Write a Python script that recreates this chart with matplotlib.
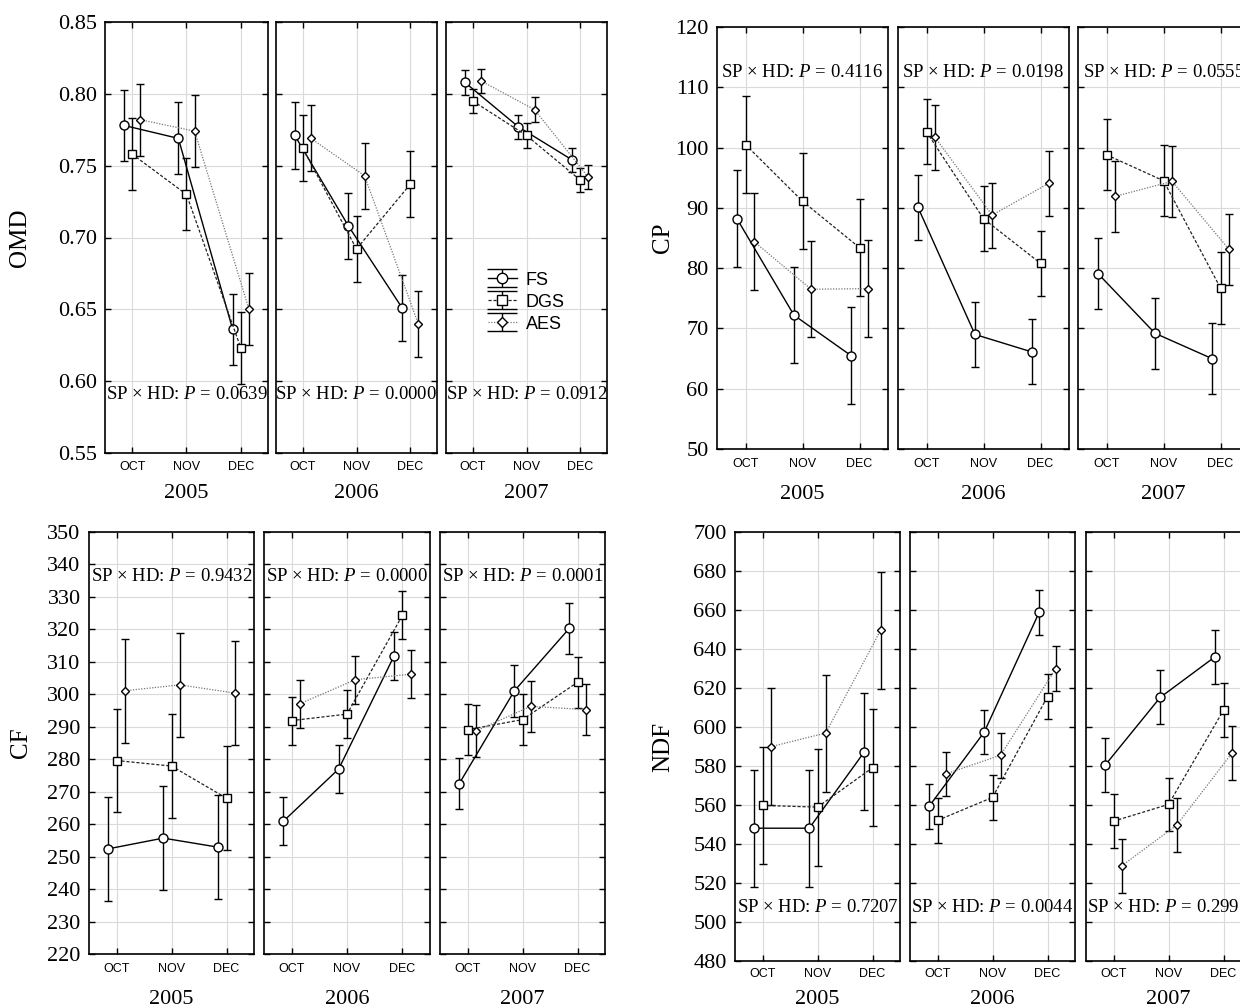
import matplotlib
matplotlib.use('Agg')
import matplotlib.pyplot as plt
from matplotlib.ticker import FormatStrFormatter

plt.rcParams['font.family'] = 'Liberation Serif'
plt.rcParams['mathtext.fontset'] = 'custom'
plt.rcParams['mathtext.rm'] = 'Liberation Serif'
plt.rcParams['mathtext.it'] = 'Liberation Serif:italic'

W, H = 1240, 1007

years = ['2005', '2006', '2007']
months = ['OCT', 'NOV', 'DEC']
series = ['FS', 'DGS', 'AES']

# means [year][month] and half error bars
omd_fs = [[0.778, 0.769, 0.636], [0.771, 0.708, 0.651], [0.808, 0.777, 0.754]]
omd_dgs = [[0.758, 0.730, 0.623], [0.762, 0.692, 0.737], [0.795, 0.771, 0.740]]
omd_aes = [[0.782, 0.774, 0.650], [0.769, 0.743, 0.640], [0.809, 0.789, 0.742]]
omd_err = [0.025, 0.023, 0.0085]
omd_p = ['0.0639', '0.0000', '0.0912']

cp_fs = [[88.2, 72.2, 65.5], [90.1, 69.0, 66.1], [79.1, 69.2, 65.0]]
cp_dgs = [[100.5, 91.1, 83.4], [102.6, 88.2, 80.8], [98.8, 94.5, 76.7]]
cp_aes = [[84.4, 76.5, 76.6], [101.7, 88.8, 94.1], [91.9, 94.4, 83.1]]
cp_err = [8.0, 5.4, 5.9]
cp_p = ['0.4116', '0.0198', '0.0555']

cf_fs = [[252.4, 255.7, 252.9], [260.9, 277.0, 311.8], [272.5, 301.0, 320.3]]
cf_dgs = [[279.6, 277.9, 268.0], [291.9, 293.9, 324.3], [289.1, 292.2, 303.7]]
cf_aes = [[301.1, 302.9, 300.4], [297.1, 304.5, 306.2], [288.7, 296.3, 295.3]]
cf_err = [16.0, 7.4, 7.9]
cf_p = ['0.9432', '0.0000', '0.0001']

ndf_fs = [[548.1, 548.1, 587.2], [559.4, 597.4, 658.9], [580.5, 615.2, 636.1]]
ndf_dgs = [[559.8, 558.9, 579.1], [552.1, 563.9, 615.6], [551.7, 560.3, 608.6]]
ndf_aes = [[589.9, 596.9, 649.7], [575.9, 585.6, 630.0], [528.8, 549.7, 586.5]]
ndf_err = [30.0, 11.5, 13.8]
ndf_p = ['0.7207', '0.0044', '0.2997']

styles = {
    'FS': dict(color='black', ls='-', marker='o', ms=6.5, lw=1.0),
    'DGS': dict(color='#222222', ls=(0, (2.5, 1.5)), marker='s', ms=6, lw=0.9),
    'AES': dict(color='#777777', ls=(0, (1, 1.2)), marker='D', ms=4, lw=0.9),
}
offsets = {'FS': -0.15, 'DGS': 0.0, 'AES': 0.15}

fig = plt.figure(figsize=(W / 100, H / 100), dpi=100)


def px_rect(l, t, r, b):
    return [l / W, 1 - b / H, (r - l) / W, (b - t) / H]


def draw_block(xs, top, bottom, data, err, pvals, ylim, yticks, fmt, ylab, ylab_x,
               p_y, month_pad, year_pad, legend=False):
    axes = []
    for k, (l, r) in enumerate(xs):
        ax = fig.add_axes(px_rect(l, top, r, bottom))
        for s in series:
            st = styles[s]
            x = [m + 1 + offsets[s] for m in range(3)]
            ax.errorbar(x, data[s][k], yerr=err[k], color=st['color'], ls=st['ls'],
                        lw=st['lw'], marker=st['marker'], ms=st['ms'],
                        mfc='white', mec='black', mew=1.0,
                        ecolor='black', elinewidth=1.0, capsize=3.2, capthick=1.0,
                        zorder=3)
        ax.set_xlim(0.5, 3.5)
        ax.set_ylim(*ylim)
        ax.set_yticks(yticks)
        ax.yaxis.set_major_formatter(FormatStrFormatter(fmt))
        ax.set_xticks([1, 2, 3])
        ax.set_xticklabels(months, family='Liberation Sans', fontsize=9)
        ax.grid(True, color='#dadada', lw=0.8)
        ax.set_axisbelow(True)
        ax.tick_params(direction='in', length=4, width=1, top=True, right=True)
        ax.tick_params(axis='y', labelleft=(k == 0), labelsize=16, pad=6)
        ax.tick_params(axis='x', pad=month_pad)
        for sp in ax.spines.values():
            sp.set_linewidth(1.2)
        ax.set_xlabel(years[k], fontsize=16, labelpad=year_pad)
        ax.text(2, p_y, 'SP \u00d7 HD: $P$ = ' + pvals[k], ha='center', va='center',
                fontsize=13.5)
        axes.append(ax)
    fig.text(ylab_x / W, 1 - ((top + bottom) / 2) / H, ylab, rotation=90,
             ha='center', va='center', fontsize=18)
    if legend:
        ax = axes[2]
        handles = []
        for s in series:
            st = styles[s]
            h = ax.errorbar([float('nan')], [float('nan')], yerr=[1.0], color=st['color'],
                            ls=st['ls'], lw=st['lw'], marker=st['marker'], ms=st['ms'] + 1,
                            mfc='white', mec='black', mew=1.0, ecolor='black',
                            elinewidth=1.0, capsize=11, capthick=1.0)
            handles.append(h)
        ax.legend(handles, series, loc='center', bbox_to_anchor=(0.5, 0.35), frameon=False,
                  prop={'family': 'Liberation Sans', 'size': 13},
                  handlelength=1.6, handleheight=1.0, labelspacing=0.2, handletextpad=0.5)
    return axes


draw_block([(105, 268), (276, 437), (446, 607)], 22, 453,
           {'FS': omd_fs, 'DGS': omd_dgs, 'AES': omd_aes}, omd_err, omd_p,
           (0.55, 0.85), [0.55, 0.60, 0.65, 0.70, 0.75, 0.80, 0.85], '%.2f', 'OMD', 20,
           0.591, 6, 8, legend=True)

draw_block([(717, 888), (898, 1069), (1078, 1249)], 27, 449,
           {'FS': cp_fs, 'DGS': cp_dgs, 'AES': cp_aes}, cp_err, cp_p,
           (50, 120), list(range(50, 121, 10)), '%d', 'CP', 663,
           112.5, 6.5, 11)

draw_block([(89, 254), (264, 430), (440, 605)], 532, 954,
           {'FS': cf_fs, 'DGS': cf_dgs, 'AES': cf_aes}, cf_err, cf_p,
           (220, 350), list(range(220, 351, 10)), '%d', 'CF', 21,
           336.3, 6.5, 11)

draw_block([(735, 900), (910, 1075), (1086, 1251)], 532, 961,
           {'FS': ndf_fs, 'DGS': ndf_dgs, 'AES': ndf_aes}, ndf_err, ndf_p,
           (480, 700), list(range(480, 701, 20)), '%d', 'NDF', 663,
           507.4, 5, 7.5)

fig.savefig('out.png', dpi=100)
